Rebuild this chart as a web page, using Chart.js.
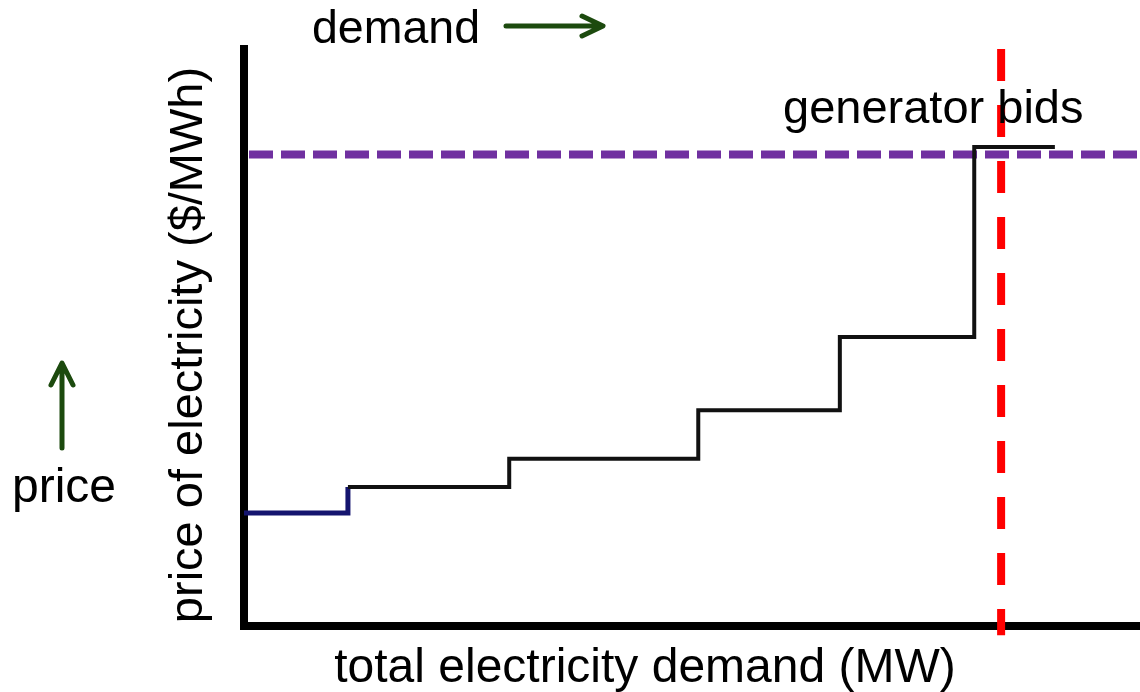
<!DOCTYPE html>
<html>
<head>
<meta charset="utf-8">
<script src="https://cdn.jsdelivr.net/npm/chart.js@4.4.1/dist/chart.umd.min.js"></script>
<style>
  html, body { margin: 0; padding: 0; background: #ffffff; }
  #wrap { width: 1140px; height: 692px; }
</style>
</head>
<body>
<div id="wrap"><canvas id="c" width="1140" height="692"></canvas></div>
<script>
// ---- data (arbitrary units) ----
const bidQuantities = [0, 116, 296, 507, 665, 815, 905];      // MW, start of each bid block (last = end)
const bidPrices     = [19.6, 24.1, 29.0, 37.4, 50.1, 83.0, 83.0]; // $/MWh of each block
const priceCap      = [81.7];   // dashed purple horizontal
const clearingDemand = [845];   // dashed red vertical
const clearingSpan   = [100, -1.6];
const demandRange    = [0, 1000];
const priceRange     = [0, 100];
const labels = {
  xTitle: 'total electricity demand (MW)',
  yTitle: 'price of electricity ($/MWh)',
  bids: 'generator bids',
  demand: 'demand',
  price: 'price'
};

const stepData = bidQuantities.map((q, i) => ({ x: q, y: bidPrices[i] }));
const capData = demandRange.map(q => ({ x: q, y: priceCap[0] }));
const clearData = clearingSpan.map(p => ({ x: clearingDemand[0], y: p }));

const FONT = '"Liberation Sans", Arial, sans-serif';
const GREEN = '#1c4a0e';

const textPlugin = {
  id: 'texts',
  afterDraw(chart) {
    const ctx = chart.ctx;
    ctx.save();
    ctx.fillStyle = '#000';
    ctx.textBaseline = 'alphabetic';

    ctx.font = '48px ' + FONT;
    ctx.textAlign = 'center';
    ctx.fillText(labels.xTitle, 645, 682);

    ctx.save();
    ctx.font = '47px ' + FONT;
    ctx.translate(202, 345);
    ctx.rotate(-Math.PI / 2);
    ctx.fillText(labels.yTitle, 0, 0);
    ctx.restore();

    ctx.textAlign = 'left';
    ctx.font = '46.5px ' + FONT;
    ctx.fillText(labels.demand, 312, 43);
    ctx.font = '48px ' + FONT;
    ctx.fillText(labels.price, 12, 502);
    ctx.font = '47px ' + FONT;
    ctx.fillText(labels.bids, 783, 123);

    // arrows
    ctx.strokeStyle = GREEN;
    ctx.lineWidth = 5;
    ctx.lineCap = 'round';
    ctx.lineJoin = 'round';
    ctx.beginPath();
    ctx.moveTo(506, 26); ctx.lineTo(601, 26);
    ctx.moveTo(582, 16); ctx.lineTo(603, 26); ctx.lineTo(582, 36);
    ctx.stroke();
    ctx.beginPath();
    ctx.moveTo(62, 448); ctx.lineTo(62, 364);
    ctx.moveTo(51, 385); ctx.lineTo(62, 363); ctx.lineTo(73, 385);
    ctx.stroke();
    ctx.restore();
  }
};

new Chart(document.getElementById('c'), {
  type: 'line',
  data: {
    datasets: [
      {
        data: stepData,
        stepped: 'before',
        borderColor: '#111111',
        borderWidth: 4,
        borderJoinStyle: 'miter',
        pointRadius: 0,
        fill: false,
        segment: {
          borderColor: c => c.p0DataIndex === 0 ? '#14146e' : '#111111',
          borderWidth: c => c.p0DataIndex === 0 ? 5 : 4
        }
      },
      {
        data: capData,
        borderColor: '#7030a0',
        borderWidth: 8,
        borderDash: [24, 8],
        borderDashOffset: 27,
        pointRadius: 0,
        fill: false
      },
      {
        data: clearData,
        borderColor: '#ff0000',
        borderWidth: 8,
        borderDash: [32, 24],
        pointRadius: 0,
        fill: false,
        clip: false
      }
    ]
  },
  options: {
    responsive: false,
    animation: false,
    devicePixelRatio: 1,
    layout: { padding: { top: 49, left: 0, right: 0, bottom: 0 } },
    plugins: { legend: { display: false }, tooltip: { enabled: false }, title: { display: false } },
    scales: {
      x: {
        type: 'linear',
        min: demandRange[0], max: demandRange[1],
        grid: { display: false },
        ticks: { display: false },
        border: { display: true, color: '#000000', width: 8 },
        afterFit: s => { s.height = 66; }
      },
      y: {
        type: 'linear',
        min: priceRange[0], max: priceRange[1],
        grid: { display: false },
        ticks: { display: false },
        border: { display: true, color: '#000000', width: 8 },
        afterFit: s => { s.width = 244; }
      }
    }
  },
  plugins: [textPlugin]
});
</script>
</body>
</html>
